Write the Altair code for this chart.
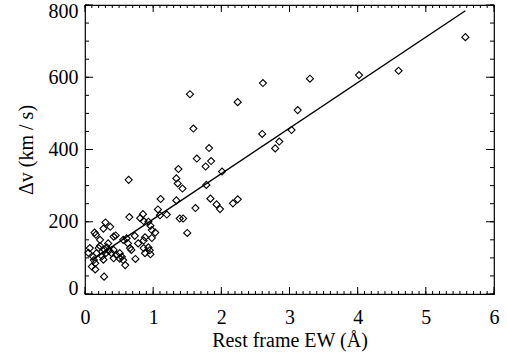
import altair as alt
import pandas as pd
import numpy as np

# Scatter data: rest-frame EW (Å) and velocity offset (km/s)
ew = [5.58, 4.60, 4.02, 3.30, 2.61, 3.12, 2.24, 1.54, 1.59, 2.60,
      3.03, 2.85, 2.79, 1.82, 1.64, 1.85, 1.77, 1.37, 1.34, 1.36,
      1.43, 2.01, 1.78, 0.64, 1.11, 1.34, 1.07, 1.62, 1.84, 1.93,
      1.98, 2.17, 2.24, 1.39, 1.44, 1.50, 1.10, 0.85, 0.65, 0.81,
      0.86, 0.93, 0.30, 0.27, 0.37, 0.14, 0.16, 0.96, 1.03, 0.98,
      0.88, 0.86, 0.93, 0.95, 0.96, 0.07, 0.12, 0.13, 0.10, 0.15,
      0.28, 0.20, 0.22, 0.59, 0.56, 0.66, 0.68, 0.42, 0.45, 0.56,
      0.61, 0.73, 0.42, 0.39, 0.46, 0.42, 0.51, 0.54, 0.51, 0.34,
      0.32, 0.29, 0.22, 0.05, 0.98, 0.86, 0.88, 0.17, 0.15, 0.78,
      0.74, 0.63, 1.20, 0.25, 0.30, 0.35, 0.27]
dv = [711, 618, 606, 596, 584, 509, 531, 553, 458, 443,
      454, 422, 403, 404, 375, 368, 353, 346, 320, 306,
      292, 339, 302, 316, 263, 259, 234, 238, 264, 248,
      235, 251, 262, 209, 209, 169, 218, 221, 213, 210,
      202, 200, 198, 181, 186, 170, 164, 189, 170, 155,
      157, 148, 129, 121, 110, 127, 103, 94, 76, 68,
      48, 127, 133, 80, 94, 127, 122, 159, 162, 150,
      154, 161, 122, 113, 108, 99, 113, 103, 98, 140,
      129, 122, 150, 114, 177, 127, 113, 113, 85, 140,
      97, 140, 220, 105, 112, 120, 95]

# Linear fit line endpoints
line_x = [0.10, 5.58]
line_y = [94, 784]

# Axis ticks
x_major = [0, 1, 2, 3, 4, 5, 6]
y_major = [0, 200, 400, 600, 800]
x_minor = [round(v, 1) for v in np.arange(0, 6.01, 0.1)]
y_minor = list(range(0, 801, 50))

W, H = 409, 289
FONT = "Liberation Serif"

xs = alt.Scale(domain=[0, 6], nice=False, zero=False)
ys = alt.Scale(domain=[0, 800], nice=False, zero=False)

pts = pd.DataFrame({"ew": ew, "dv": dv})
ln = pd.DataFrame({"ew": line_x, "dv": line_y})

points = alt.Chart(pts).mark_point(
    shape="diamond", filled=False, color="black", size=50, strokeWidth=1.1, opacity=1
).encode(
    x=alt.X("ew:Q", scale=xs, axis=alt.Axis(
        title="Rest frame EW (Å)", values=x_major, format="d", ticks=False, tickSize=0,
        domain=False, grid=False, labelFontSize=20, labelColor="black",
        labelPadding=13, titleFontSize=20, titleFontWeight="normal",
        titleColor="black", titlePadding=3, labelFlush=False)),
    y=alt.Y("dv:Q", scale=ys, axis=alt.Axis(
        title="Δv (km / s)", values=y_major, format="d", ticks=False, tickSize=0,
        domain=False, grid=False, labelFontSize=20, labelColor="black",
        labelPadding=7, titleFontSize=20, titleFontWeight="normal",
        titleColor="black", titlePadding=12, labelFlush=True, labelFlushOffset=4)),
)

fit = alt.Chart(ln).mark_line(color="black", strokeWidth=1.4).encode(
    x=alt.X("ew:Q", scale=xs), y=alt.Y("dv:Q", scale=ys)
)

def xticks(vals, length):
    d = pd.DataFrame({"t": vals})
    base = alt.Chart(d).mark_rule(color="black", strokeWidth=1)
    top = base.encode(x=alt.X("t:Q", scale=xs), y=alt.value(0), y2=alt.value(length))
    bot = base.encode(x=alt.X("t:Q", scale=xs), y=alt.value(H), y2=alt.value(H - length))
    return [top, bot]

def yticks(vals, length):
    d = pd.DataFrame({"t": vals})
    base = alt.Chart(d).mark_rule(color="black", strokeWidth=1)
    left = base.encode(y=alt.Y("t:Q", scale=ys), x=alt.value(0), x2=alt.value(length))
    right = base.encode(y=alt.Y("t:Q", scale=ys), x=alt.value(W), x2=alt.value(W - length))
    return [left, right]

layers = (xticks(x_minor, 3) + xticks(x_major, 7) + yticks(y_minor, 4) + yticks(y_major, 8)
          + [fit, points])

chart = alt.layer(*layers).properties(
    width=W, height=H,
    background="white",
    autosize=alt.AutoSizeParams(type="none"),
    padding={"left": 85, "top": 5, "right": 13, "bottom": 60},
).configure(font=FONT).configure_axis(
    labelFont=FONT, titleFont=FONT
).configure_view(stroke="black", strokeWidth=1.2)

chart.save("out.html", embed_options={"renderer": "svg", "actions": False})
